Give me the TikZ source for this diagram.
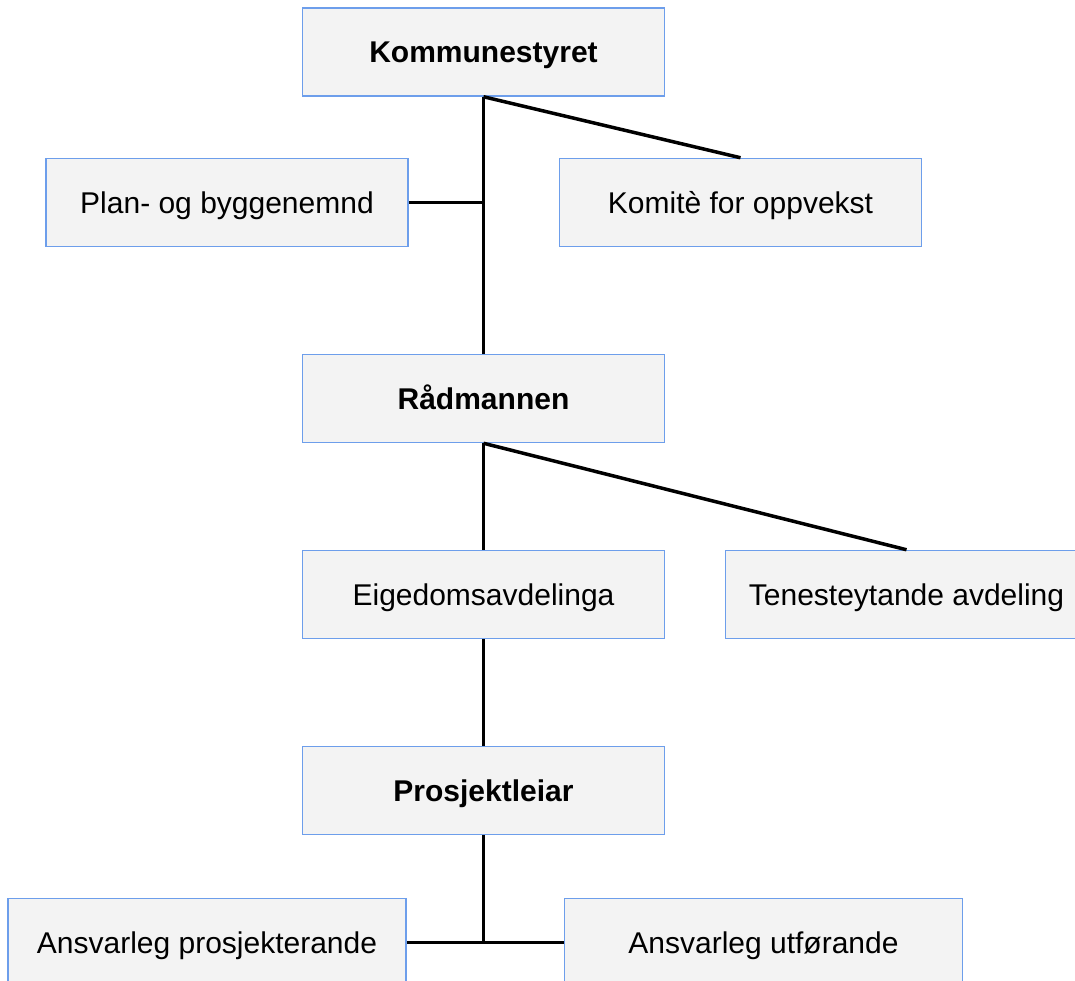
\documentclass[tikz,border=0pt]{standalone}
\usepackage{fontspec}
\setmainfont{Liberation Sans}
\usepackage{tikz}
\usepackage{xcolor}
\definecolor{boxblue}{HTML}{6D9EEB}
\definecolor{boxgrey}{HTML}{F3F3F3}
\tikzset{
    org-box/.style = {draw=boxblue, fill=boxgrey, line width=1.5pt, rectangle, minimum width=362pt, minimum height=88pt, inner sep=0pt, text height=22pt, text depth=0pt, font=\fontsize{30}{36}\selectfont},
    org-box-bold/.style = {org-box, font=\fontsize{30}{36}\selectfont\bfseries},
    org-line/.style = {black, line width=3.5pt},
}

\begin{document}
\begin{tikzpicture}[x=1pt, y=-1pt]
\useasboundingbox (0,0) rectangle (1075,981);
\node [org-box-bold] (styret) at (483.5,52) {Kommunestyret};
\node [org-box] (plan) at (227,202.5) {Plan- og byggenemnd};
\node [org-box] (komite) at (740.5,202.5) {Komitè for oppvekst};
\node [org-box-bold] (radmann) at (483.5,398.5) {Rådmannen};
\node [org-box] (eigedom) at (483.5,594.5) {Eigedomsavdelinga};
\node [org-box] (teneste) at (906.5,594.5) {Tenesteytande avdeling};
\node [org-box-bold] (leiar) at (483.5,790.5) {Prosjektleiar};
\node [org-box, minimum width=398pt] (prosjekt) at (207,942.5) {Ansvarleg prosjekterande};
\node [org-box, minimum width=398pt] (utforande) at (763.5,942.5) {Ansvarleg utførande};

\draw [org-line] (styret.south) -- (radmann.north);
\draw [org-line] (styret.south) -- (komite.north);
\draw [org-line] (plan.east) -- (plan.east -| styret.south);
\draw [org-line] (radmann.south) -- (eigedom.north);
\draw [org-line] (radmann.south) -- (teneste.north);
\draw [org-line] (eigedom.south) -- (leiar.north);
\draw [org-line] (leiar.south) -- (leiar.south |- prosjekt.east);
\draw [org-line] (prosjekt.east) -- (utforande.west);
\end{tikzpicture}
\end{document}
